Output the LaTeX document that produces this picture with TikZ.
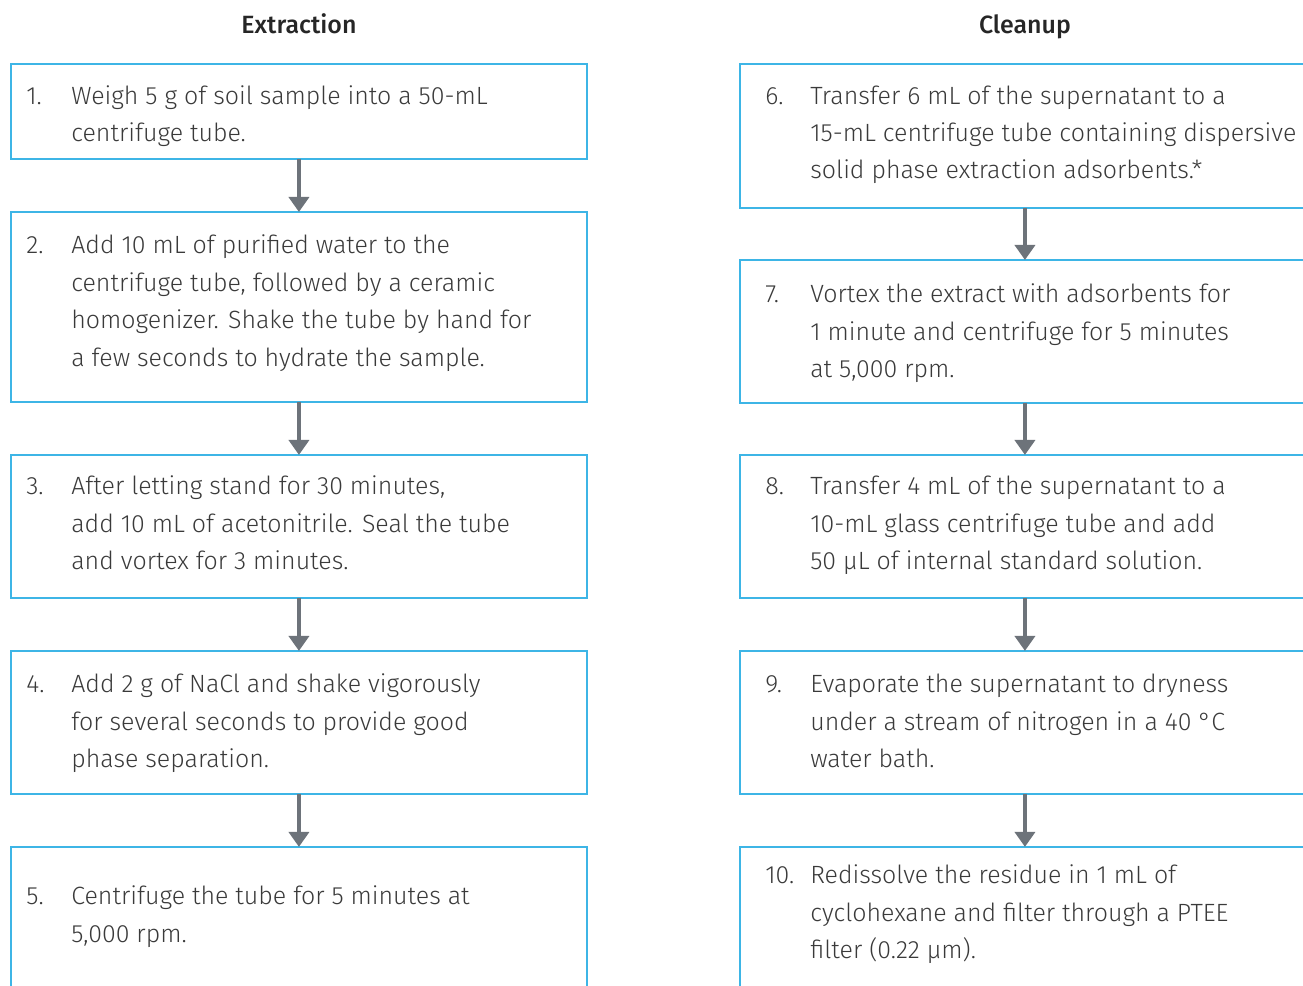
\documentclass[tikz,border=0pt]{standalone}
\usepackage{fontspec}
\setmainfont{Fira Sans}[UprightFont=* Light, BoldFont=* Medium]
\usetikzlibrary{arrows.meta,positioning}
\definecolor{boxblue}{HTML}{3DB5E6}
\definecolor{arrowgray}{HTML}{6D737A}
\definecolor{textgray}{HTML}{3A3A3A}
\tikzstyle{stepbox} = [draw=boxblue, line width=0.04cm, anchor=north west, inner sep=0pt, outer sep=0pt]
\tikzstyle{steptext} = [anchor=base west, inner sep=0pt, text=textgray, font=\fontsize{14.2}{21.34}\selectfont]
\tikzstyle{heading} = [anchor=base, inner sep=0pt, text=black!85, font=\fontsize{14.2}{21.34}\selectfont\bfseries]
\tikzstyle{arrow} = [draw, line width=0.08cm, color=arrowgray, -{Triangle[width=0.4cm,length=0.3cm]}]
\newcommand{\leftbox}[2]{node (b#1) [stepbox, minimum width=11.52cm, minimum height=#2] {}}
\newcommand{\rightbox}[2]{node (b#1) [stepbox, minimum width=11.4cm, minimum height=#2] {}}
\newcommand{\steptext}[3]{node (s#1) [steptext] {\makebox[0.9cm][l]{#2}\parbox[t]{11cm}{\raggedright #3}}}

\begin{document}
\begin{tikzpicture}[x=0.02cm,y=0.02cm]
\useasboundingbox (0,0) rectangle (1303,-985);
\clip (0,0) rectangle (1303,-985);
\path (299,-33) node (h1) [heading] {Extraction};
\path (1025,-33) node (h2) [heading] {Cleanup};

% extraction
\path (11,-64) \leftbox{1}{1.9cm};
\path (b1.south west)+(0,-53) \leftbox{2}{3.8cm};
\path (b2.south west)+(0,-53) \leftbox{3}{2.86cm};
\path (b3.south west)+(0,-53) \leftbox{4}{2.86cm};
\path (b4.south west)+(0,-53) \leftbox{5}{3.2cm};

\path (b1.north west)+(15,-40) \steptext{1}{1.}{Weigh 5 g of soil sample into a 50-mL\\centrifuge tube.};
\path (b2.north west)+(15,-42) \steptext{2}{2.}{Add 10 mL of purified water to the\\centrifuge tube, followed by a ceramic\\homogenizer. Shake the tube by hand for\\a few seconds to hydrate the sample.};
\path (b3.north west)+(15,-40) \steptext{3}{3.}{After letting stand for 30 minutes,\\add 10 mL of acetonitrile. Seal the tube\\and vortex for 3 minutes.};
\path (b4.north west)+(15,-42) \steptext{4}{4.}{Add 2 g of NaCl and shake vigorously\\for several seconds to provide good\\phase separation.};
\path (b5.north west)+(15,-58) \steptext{5}{5.}{Centrifuge the tube for 5 minutes at\\5,000 rpm.};

\path [arrow] (b1.south) -- (b2.north);
\path [arrow] (b2.south) -- (b3.north);
\path [arrow] (b3.south) -- (b4.north);
\path [arrow] (b4.south) -- (b5.north);

% cleanup
\path (740,-64) \rightbox{6}{2.88cm};
\path (b6.south west)+(0,-52) \rightbox{7}{2.86cm};
\path (b7.south west)+(0,-52) \rightbox{8}{2.86cm};
\path (b8.south west)+(0,-53) \rightbox{9}{2.86cm};
\path (b9.south west)+(0,-53) \rightbox{10}{3.2cm};

\path (b6.north west)+(25,-40) \steptext{6}{6.}{Transfer 6 mL of the supernatant to a\\15-mL centrifuge tube containing dispersive\\solid phase extraction adsorbents.*};
\path (b7.north west)+(25,-43) \steptext{7}{7.}{Vortex the extract with adsorbents for\\1 minute and centrifuge for 5 minutes\\at 5,000 rpm.};
\path (b8.north west)+(25,-40) \steptext{8}{8.}{Transfer 4 mL of the supernatant to a\\10-mL glass centrifuge tube and add\\50 µL of internal standard solution.};
\path (b9.north west)+(25,-42) \steptext{9}{9.}{Evaporate the supernatant to dryness\\under a stream of nitrogen in a 40 °C\\water bath.};
\path (b10.north west)+(25,-37) \steptext{10}{10.}{Redissolve the residue in 1 mL of\\cyclohexane and filter through a PTEE\\filter (0.22 µm).};

\path [arrow] (b6.south) -- (b7.north);
\path [arrow] (b7.south) -- (b8.north);
\path [arrow] (b8.south) -- (b9.north);
\path [arrow] (b9.south) -- (b10.north);
\end{tikzpicture}
\end{document}
